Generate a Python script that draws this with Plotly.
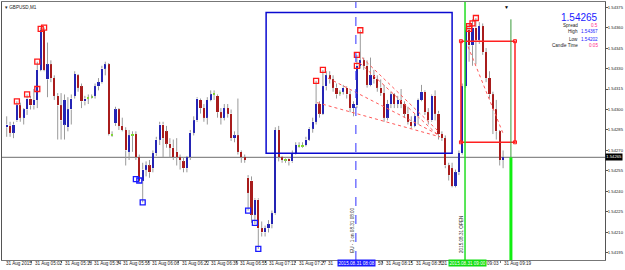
import plotly.graph_objects as go

# ---------------- data (GBPUSD, M1) ----------------
opens = [1.54287,1.54288,1.54283,1.54292,1.54303,1.54294,1.54300,1.54308,1.54303,1.54307,
1.54329,1.54358,1.54322,1.54333,1.54323,1.54310,1.54303,1.54289,1.54287,1.54300,
1.54310,1.54325,1.54317,1.54306,1.54308,1.54309,1.54310,1.54317,1.54320,1.54330,
1.54333,1.54282,1.54290,1.54300,1.54288,1.54285,1.54269,1.54281,1.54282,1.54265,
1.54248,1.54256,1.54259,1.54257,1.54268,1.54278,1.54289,1.54284,1.54275,1.54272,
1.54269,1.54265,1.54262,1.54257,1.54265,1.54283,1.54292,1.54307,1.54301,1.54294,
1.54307,1.54311,1.54310,1.54298,1.54294,1.54301,1.54297,1.54279,1.54281,1.54269,
1.54265,1.54250,1.54248,1.54223,1.54234,1.54213,1.54210,1.54213,1.54216,1.54224,
1.54285,1.54265,1.54263,1.54264,1.54262,1.54268,1.54274,1.54273,1.54274,1.54278,
1.54286,1.54291,1.54304,1.54297,1.54317,1.54325,1.54322,1.54316,1.54312,1.54313,
1.54316,1.54311,1.54301,1.54303,1.54332,1.54336,1.54332,1.54318,1.54325,1.54322,
1.54316,1.54312,1.54294,1.54304,1.54311,1.54304,1.54307,1.54304,1.54297,1.54291,
1.54288,1.54295,1.54307,1.54313,1.54298,1.54292,1.54310,1.54297,1.54282,1.54279,
1.54259,1.54257,1.54244,1.54254,1.54268,1.54317,1.54358,1.54347,1.54360,1.54351,
1.54361,1.54342,1.54323,1.54311,1.54300,1.54284,1.54263]
highs = [1.54295,1.54291,1.54291,1.54306,1.54305,1.54301,1.54311,1.54310,1.54315,1.54335,
1.54360,1.54360,1.54349,1.54336,1.54325,1.54312,1.54312,1.54311,1.54309,1.54311,
1.54328,1.54326,1.54319,1.54310,1.54311,1.54311,1.54319,1.54323,1.54332,1.54335,
1.54334,1.54284,1.54302,1.54301,1.54294,1.54287,1.54285,1.54284,1.54284,1.54267,
1.54261,1.54262,1.54263,1.54270,1.54280,1.54291,1.54291,1.54288,1.54279,1.54278,
1.54279,1.54267,1.54265,1.54266,1.54285,1.54295,1.54309,1.54308,1.54304,1.54309,
1.54314,1.54314,1.54311,1.54301,1.54304,1.54304,1.54300,1.54284,1.54308,1.54270,
1.54267,1.54252,1.54251,1.54235,1.54235,1.54218,1.54215,1.54219,1.54226,1.54287,
1.54288,1.54266,1.54265,1.54265,1.54270,1.54276,1.54276,1.54276,1.54280,1.54287,
1.54294,1.54321,1.54306,1.54329,1.54328,1.54328,1.54325,1.54319,1.54314,1.54318,
1.54317,1.54314,1.54306,1.54340,1.54358,1.54338,1.54336,1.54338,1.54329,1.54325,
1.54322,1.54318,1.54307,1.54313,1.54312,1.54310,1.54315,1.54306,1.54302,1.54295,
1.54297,1.54308,1.54318,1.54314,1.54301,1.54311,1.54314,1.54299,1.54284,1.54281,
1.54261,1.54261,1.54256,1.54270,1.54319,1.54360,1.54363,1.54366,1.54367,1.54364,
1.54363,1.54345,1.54328,1.54313,1.54307,1.54285,1.54270]
lows = [1.54280,1.54280,1.54279,1.54291,1.54291,1.54289,1.54296,1.54300,1.54300,1.54301,
1.54328,1.54328,1.54309,1.54320,1.54307,1.54278,1.54278,1.54278,1.54284,1.54289,
1.54308,1.54313,1.54301,1.54303,1.54304,1.54308,1.54308,1.54314,1.54319,1.54325,
1.54281,1.54280,1.54288,1.54285,1.54284,1.54259,1.54263,1.54269,1.54263,1.54246,
1.54232,1.54251,1.54250,1.54254,1.54266,1.54274,1.54265,1.54272,1.54265,1.54263,
1.54259,1.54256,1.54254,1.54254,1.54263,1.54281,1.54291,1.54297,1.54291,1.54289,
1.54306,1.54307,1.54294,1.54289,1.54292,1.54294,1.54277,1.54276,1.54267,1.54261,
1.54261,1.54226,1.54217,1.54216,1.54198,1.54207,1.54207,1.54210,1.54213,1.54223,
1.54262,1.54261,1.54261,1.54259,1.54261,1.54267,1.54272,1.54272,1.54273,1.54277,
1.54283,1.54289,1.54294,1.54296,1.54314,1.54319,1.54313,1.54308,1.54310,1.54311,
1.54308,1.54298,1.54295,1.54301,1.54330,1.54329,1.54316,1.54317,1.54319,1.54313,
1.54310,1.54291,1.54292,1.54301,1.54301,1.54301,1.54301,1.54294,1.54289,1.54286,
1.54287,1.54289,1.54306,1.54296,1.54289,1.54291,1.54292,1.54278,1.54277,1.54257,
1.54248,1.54243,1.54243,1.54252,1.54267,1.54316,1.54335,1.54332,1.54333,1.54348,
1.54340,1.54320,1.54308,1.54282,1.54278,1.54259,1.54257]
closes = [1.54289,1.54283,1.54289,1.54303,1.54294,1.54300,1.54308,1.54303,1.54307,1.54329,
1.54358,1.54329,1.54333,1.54323,1.54310,1.54303,1.54292,1.54307,1.54300,1.54308,
1.54326,1.54316,1.54306,1.54308,1.54309,1.54309,1.54317,1.54320,1.54330,1.54333,
1.54282,1.54281,1.54300,1.54288,1.54285,1.54270,1.54281,1.54282,1.54265,1.54248,
1.54256,1.54259,1.54254,1.54268,1.54278,1.54289,1.54279,1.54275,1.54272,1.54265,
1.54265,1.54263,1.54257,1.54265,1.54283,1.54292,1.54308,1.54301,1.54294,1.54307,
1.54311,1.54312,1.54298,1.54294,1.54301,1.54297,1.54279,1.54281,1.54269,1.54265,
1.54263,1.54239,1.54223,1.54234,1.54213,1.54210,1.54213,1.54216,1.54224,1.54285,
1.54265,1.54263,1.54264,1.54262,1.54268,1.54274,1.54273,1.54274,1.54278,1.54286,
1.54291,1.54304,1.54297,1.54317,1.54325,1.54322,1.54316,1.54311,1.54312,1.54316,
1.54311,1.54301,1.54304,1.54332,1.54336,1.54332,1.54318,1.54325,1.54322,1.54316,
1.54312,1.54294,1.54304,1.54311,1.54304,1.54307,1.54304,1.54297,1.54291,1.54288,
1.54295,1.54307,1.54313,1.54298,1.54292,1.54310,1.54297,1.54282,1.54279,1.54259,
1.54252,1.54244,1.54254,1.54268,1.54317,1.54358,1.54347,1.54360,1.54351,1.54361,
1.54342,1.54323,1.54311,1.54300,1.54284,1.54263,1.54265]

current_price = 1.54265

# indicator markers (bar index, price)
red_sq_x = [3, 6, 9, 9, 10, 11, 91, 93, 103, 103, 104, 136, 136, 137, 138]
red_sq_y = [1.54306, 1.54311, 1.54315, 1.54335, 1.54359, 1.54360, 1.54321, 1.54329,
            1.54332, 1.54340, 1.54358, 1.54359, 1.54361, 1.54363, 1.54367]
blue_sq_x = [38, 39, 40, 71, 73, 74]
blue_sq_y = [1.54249, 1.54248, 1.54232, 1.54226, 1.54217, 1.54198]

# dotted trend lines
trend_x0 = [91.3, 94.5, 103.9, 104.5, 135.7]
trend_y0 = [1.54305, 1.54323, 1.54334, 1.54338, 1.54346]
trend_x1 = [127.4, 127.4, 127.4, 127.4, 145.9]
trend_y1 = [1.54280, 1.54281, 1.54280, 1.54283, 1.54283]

# drawn objects
blue_rect = [76.3, 131.0, 1.54268, 1.54371]
red_rect = [133.6, 149.5, 1.54276, 1.54350]
dash_line_x = 102.7
green_line_x = 134.8
now_line_x = 148.3
now_line_top = 1.54366

y_ticks = [1.54375, 1.54360, 1.54345, 1.54330, 1.54315, 1.54300, 1.54285, 1.54270,
           1.54255, 1.54240, 1.54225, 1.54210, 1.54195]
# time labels as visible on the axis (some partly hidden behind the highlighted labels)
x_label_text = ["31 Aug 2015", "31 Aug 05:02", "31 Aug 05:18", "31 Aug 05:34", "31 Aug 05:50",
                "31 Aug 06:06", "31 Aug 06:22", "31 Aug 06:39", "31 Aug 06:55", "31 Aug 07:11",
                "31 Aug 07:27", "31", "59", "31 Aug 08:15", "31 Aug 08:31",
                "31", "09:03", "31 Aug 09:19"]
x_label_pos = [-1.4, 7.2, 16.0, 24.5, 33.0, 41.6, 50.4, 58.9, 67.5, 76.0, 84.8, 93.3,
               107.9, 110.5, 119.2, 126.9, 140.2, 145.1]
x_tick_pos = [-1.4, 7.2, 16.0, 24.5, 33.0, 41.6, 50.4, 58.9, 67.5, 76.0, 84.8, 93.3,
              101.9, 110.5, 119.2, 127.7, 136.2, 145.1]

# ---------------- figure ----------------
FONT = "Liberation Sans, Arial, sans-serif"
FS = 4.6
n = len(opens)
xs = list(range(n))

wx, wy = [], []
base, height, colors = [], [], []
for i in range(n):
    o, h, l, c = opens[i], highs[i], lows[i], closes[i]
    top, bot = max(o, c), min(o, c)
    wx += [i, i, None, i, i, None]
    wy += [h, top, None, bot, l, None]
    base.append(bot)
    height.append(max(top - bot, 0.0000075))
    if abs(c - o) < 0.000015:
        colors.append("#7ede2a")
    elif c > o:
        colors.append("#2424b4")
    else:
        colors.append("#a81c1c")

fig = go.Figure()
fig.add_trace(go.Bar(x=xs, base=base, y=height, width=0.6,
                     marker=dict(color=colors, line=dict(width=0)), hoverinfo="skip"))
fig.add_trace(go.Scatter(x=wx, y=wy, mode="lines", line=dict(color="#9a9a9a", width=1),
                         hoverinfo="skip"))
for k in range(len(trend_x0)):
    fig.add_trace(go.Scatter(x=[trend_x0[k], trend_x1[k]], y=[trend_y0[k], trend_y1[k]],
                             mode="lines", line=dict(color="#ff5a5a", width=1, dash="dot"),
                             hoverinfo="skip"))
fig.add_trace(go.Scatter(x=red_sq_x, y=red_sq_y, mode="markers",
                         marker=dict(symbol="square-open", size=5, color="#ff1a1a",
                                     line=dict(width=1.3)), hoverinfo="skip"))
fig.add_trace(go.Scatter(x=blue_sq_x, y=blue_sq_y, mode="markers",
                         marker=dict(symbol="square-open", size=5, color="#1a1aff",
                                     line=dict(width=1.3)), hoverinfo="skip"))
fig.add_trace(go.Scatter(x=[red_rect[0], red_rect[1], red_rect[0], red_rect[1]],
                         y=[red_rect[2], red_rect[2], red_rect[3], red_rect[3]],
                         mode="markers", marker=dict(symbol="square-open", size=3,
                                                     color="#ff1a1a", line=dict(width=1)),
                         hoverinfo="skip"))

shapes = [
    dict(type="line", xref="paper", x0=0, x1=1, y0=current_price, y1=current_price,
         line=dict(color="#8a8a8a", width=1.2), layer="below"),
    dict(type="rect", x0=blue_rect[0], x1=blue_rect[1], y0=blue_rect[2], y1=blue_rect[3],
         line=dict(color="#0a0ad0", width=1.5)),
    dict(type="rect", x0=red_rect[0], x1=red_rect[1], y0=red_rect[2], y1=red_rect[3],
         line=dict(color="#ff2020", width=1.5)),
    dict(type="line", x0=dash_line_x, x1=dash_line_x, yref="paper", y0=0, y1=1,
         line=dict(color="#3030ff", width=1, dash="dash")),
    dict(type="line", x0=green_line_x, x1=green_line_x, yref="paper", y0=0, y1=1,
         line=dict(color="#22dd22", width=1.5)),
    dict(type="line", x0=now_line_x, x1=now_line_x, y0=current_price, y1=now_line_top,
         line=dict(color="#3a9a3a", width=1)),
    dict(type="line", x0=now_line_x, x1=now_line_x, yref="y", y0=1.5418, y1=current_price,
         line=dict(color="#11ee11", width=3)),
]

ann = []
for t, p in zip(x_label_text, x_label_pos):
    ann.append(dict(x=p + 0.6, y=-0.013, xref="x", yref="paper", text=t, showarrow=False,
                    xanchor="left", yanchor="middle", font=dict(size=FS, color="#222", family=FONT)))
ann.append(dict(x=97.1, y=-0.013, xref="x", yref="paper", text="2015.08.31 08:08",
                showarrow=False, xanchor="left", yanchor="middle", bgcolor="#1a1aff",
                borderpad=0.5, font=dict(size=FS, color="white", family=FONT)))
ann.append(dict(x=129.9, y=-0.013, xref="x", yref="paper", text="2015.08.31 09:00",
                showarrow=False, xanchor="left", yanchor="middle", bgcolor="#11dd11",
                borderpad=0.5, font=dict(size=FS, color="white", family=FONT)))
ann.append(dict(x=1.0, y=current_price, xref="paper", yref="y", text="1.54265",
                showarrow=False, xanchor="left", yanchor="middle", xshift=0, bgcolor="#000",
                borderpad=0.3, font=dict(size=4.2, color="white", family=FONT)))
ann.append(dict(x=0.002, y=0.995, xref="paper", yref="paper", text="▾ GBPUSD,M1",
                showarrow=False, xanchor="left", yanchor="top",
                font=dict(size=FS, color="#222", family=FONT)))
ann.append(dict(x=147.1, y=1.0, xref="x", yref="paper", text="▼", showarrow=False,
                xanchor="center", yanchor="top", font=dict(size=5, color="#000", family=FONT)))
ann.append(dict(x=dash_line_x - 1.0, y=0.02, xref="x", yref="paper",
                text="EU - 1 on 08.31 08:00", textangle=-90, showarrow=False,
                xanchor="center", yanchor="bottom", font=dict(size=FS, color="#222", family=FONT)))
ann.append(dict(x=green_line_x - 1.0, y=0.02, xref="x", yref="paper",
                text="2015.08.31 OPEN", textangle=-90, showarrow=False,
                xanchor="center", yanchor="bottom", font=dict(size=FS, color="#222", family=FONT)))

def px_x(px):
    return (px - 2) / 603.0

def px_y(py):
    return (260 - py) / 258.0

ann.append(dict(x=px_x(600), y=px_y(17), xref="paper", yref="paper", text="1.54265",
                showarrow=False, xanchor="right", yanchor="middle",
                font=dict(size=10, color="#1a1aff", family=FONT)))
rows = [("Spread", "0.5", "#ff2a8a", 25), ("High", "1.54367", "#1a1aff", 32),
        ("Low", "1.54202", "#1a1aff", 39), ("Candle Time", "0:05", "#ff2a8a", 46)]
for lab, val, col, py in rows:
    ann.append(dict(x=px_x(580), y=px_y(py), xref="paper", yref="paper", text=lab,
                    showarrow=False, xanchor="right", yanchor="middle",
                    font=dict(size=FS, color="#222", family=FONT)))
    ann.append(dict(x=px_x(600), y=px_y(py), xref="paper", yref="paper", text=val,
                    showarrow=False, xanchor="right", yanchor="middle",
                    font=dict(size=FS, color=col, family=FONT)))

fig.update_layout(
    width=625, height=270,
    margin=dict(l=2, r=20, t=2, b=10, pad=0, autoexpand=False),
    paper_bgcolor="white", plot_bgcolor="white",
    showlegend=False, hovermode=False, bargap=0,
    shapes=shapes, annotations=ann,
    xaxis=dict(range=[-1.38, 175.97], showgrid=False, zeroline=False, showline=True,
               linecolor="#777", linewidth=1, mirror=True, tickvals=x_tick_pos,
               ticks="outside", ticklen=2, tickcolor="#777", showticklabels=False,
               fixedrange=True),
    yaxis=dict(range=[1.541898, 1.543787], side="right", showgrid=False, zeroline=False,
               showline=True, linecolor="#555", linewidth=1, mirror=True,
               tickvals=y_ticks, ticktext=["%.5f" % v for v in y_ticks],
               ticks="outside", ticklen=2, tickcolor="#555", ticklabelstandoff=-1,
               tickfont=dict(size=4.2, color="#222", family=FONT), fixedrange=True),
)

fig.write_html("out.html", config={"displayModeBar": False})
